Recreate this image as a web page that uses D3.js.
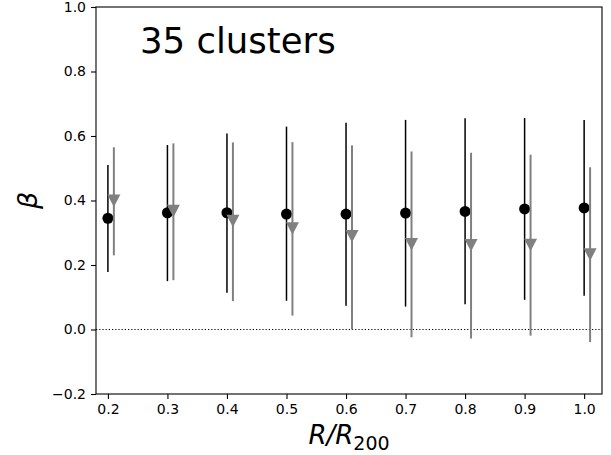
<!DOCTYPE html>
<html>
<head>
<meta charset="utf-8">
<script src="https://d3js.org/d3.v7.min.js"></script>
<style>
  body { margin: 0; background: #fff; }
  text { font-family: "DejaVu Sans", sans-serif; }
</style>
</head>
<body>
<div id="chart"></div>
<script>
// radii in units of R200
var radii = [0.2, 0.3, 0.4, 0.5, 0.6, 0.7, 0.8, 0.9, 1.0];
// black points: beta with lower / upper error bar ends
var betaBlack = [0.345, 0.362, 0.362, 0.358, 0.358, 0.361, 0.366, 0.374, 0.377];
var blackLo = [0.178, 0.150, 0.114, 0.089, 0.074, 0.071, 0.078, 0.092, 0.105];
var blackHi = [0.510, 0.572, 0.608, 0.629, 0.641, 0.650, 0.655, 0.656, 0.650];
// grey triangles (plotted with small x offset)
var betaGrey = [0.400, 0.368, 0.337, 0.314, 0.290, 0.265, 0.262, 0.263, 0.233];
var greyLo = [0.230, 0.153, 0.088, 0.043, 0.000, -0.024, -0.028, -0.019, -0.039];
var greyHi = [0.565, 0.577, 0.580, 0.581, 0.571, 0.552, 0.548, 0.542, 0.503];
var greyOffset = 0.01;
var xTicks = [0.2, 0.3, 0.4, 0.5, 0.6, 0.7, 0.8, 0.9, 1.0];
var yTicks = [-0.2, 0.0, 0.2, 0.4, 0.6, 0.8, 1.0];

var W = 611, H = 455;
var m = {left: 96, top: 7, right: 9, bottom: 61};
var w = W - m.left - m.right, h = H - m.top - m.bottom;

var svg = d3.select("#chart").append("svg")
  .attr("width", W).attr("height", H);
var g = svg.append("g").attr("transform", "translate(" + m.left + "," + m.top + ")");

var x = d3.scaleLinear().domain([0.18, 1.03]).range([0, w]);
var y = d3.scaleLinear().domain([-0.2, 1.0]).range([h, 0]);

// zero line
g.append("line")
  .attr("x1", 0).attr("x2", w)
  .attr("y1", y(0)).attr("y2", y(0))
  .attr("stroke", "#000").attr("stroke-width", 1.1)
  .attr("stroke-dasharray", "1.2,2");

function series(vals, lo, hi, dx, col) {
  var d = radii.map(function (r, i) {
    return {x: r + dx, v: vals[i], lo: lo[i], hi: hi[i]};
  });
  g.selectAll(null).data(d).enter().append("line")
    .attr("x1", function (p) { return x(p.x); })
    .attr("x2", function (p) { return x(p.x); })
    .attr("y1", function (p) { return y(p.lo); })
    .attr("y2", function (p) { return y(p.hi); })
    .attr("stroke", col).attr("stroke-width", col == "#000" ? 1.5 : 2);
  return d;
}

var dBlack = series(betaBlack, blackLo, blackHi, 0, "#000");
g.selectAll(null).data(dBlack).enter().append("circle")
  .attr("cx", function (p) { return x(p.x); })
  .attr("cy", function (p) { return y(p.v); })
  .attr("r", 5.5).attr("fill", "#000");

var dGrey = series(betaGrey, greyLo, greyHi, greyOffset, "#808080");
var tri = "M-6.5,-6 L6.5,-6 L0,6.5 Z";
g.selectAll(null).data(dGrey).enter().append("path")
  .attr("d", tri)
  .attr("transform", function (p) { return "translate(" + x(p.x) + "," + y(p.v) + ")"; })
  .attr("fill", "#808080");

// axes
var fmt = d3.format(".1f");
var xa = g.append("g").attr("transform", "translate(0," + h + ")")
  .call(d3.axisBottom(x).tickValues(xTicks).tickFormat(fmt).tickSize(5).tickSizeOuter(0).tickPadding(5));
var ya = g.append("g")
  .call(d3.axisLeft(y).tickValues(yTicks).tickFormat(fmt).tickSize(5).tickSizeOuter(0).tickPadding(5));
[xa, ya].forEach(function (a) {
  a.select(".domain").remove();
  a.selectAll("line").attr("stroke", "#000").attr("stroke-width", 1.1);
  a.selectAll("text").attr("font-size", 14).attr("fill", "#000")
    .attr("font-family", "DejaVu Sans, sans-serif");
});

// frame
g.append("rect").attr("width", w).attr("height", h)
  .attr("fill", "none").attr("stroke", "#000").attr("stroke-width", 1.1);

// labels
g.append("text").attr("x", 44).attr("y", 46)
  .attr("font-size", 35.5).text("35 clusters");

var xl = svg.append("text")
  .attr("x", m.left + w / 2).attr("y", 444)
  .attr("text-anchor", "middle").attr("font-size", 26);
xl.append("tspan").attr("font-style", "italic").text("R/R");
xl.append("tspan").attr("font-size", 19).attr("dy", 6).text("200");

svg.append("text")
  .attr("transform", "translate(37," + (m.top + h / 2) + ") rotate(-90)")
  .attr("text-anchor", "middle").attr("font-size", 27)
  .attr("font-style", "italic").text("β");
</script>
</body>
</html>
